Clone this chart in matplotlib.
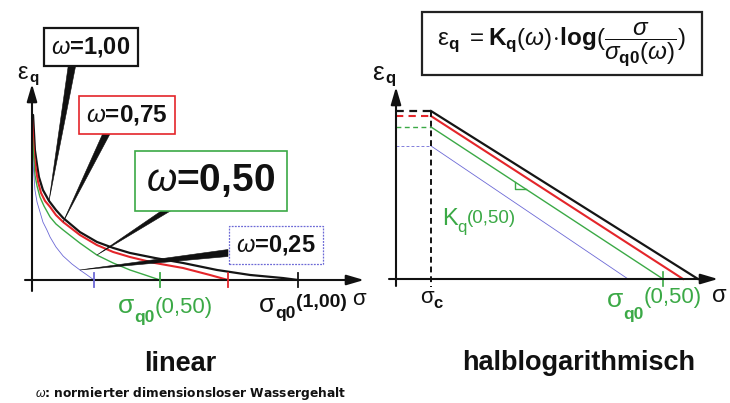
import matplotlib
matplotlib.use("Agg")
import matplotlib.pyplot as plt
from matplotlib.patches import Polygon, Rectangle

plt.rcParams['font.family'] = ['Liberation Sans', 'DejaVu Sans']
plt.rcParams['mathtext.fontset'] = 'custom'
plt.rcParams['mathtext.rm'] = 'Liberation Sans'
plt.rcParams['mathtext.it'] = 'Liberation Sans:italic'
plt.rcParams['mathtext.bf'] = 'Liberation Sans:bold'

# ---------------- data ----------------
omega_labels = ['1,00', '0,75', '0,50', '0,25']
colors = ['#151515', '#e4252a', '#3ba946', '#6c69d6']
line_w = [1.6, 1.5, 1.0, 0.6]

# linear view: sigma scaled to sigma_q0(1,00) = 1, eps scaled to eps_c(1,00) = 1
sig_100 = [0.004, 0.008, 0.011, 0.019, 0.026, 0.041, 0.064, 0.090, 0.117, 0.180,
           0.244, 0.305, 0.368, 0.462, 0.568, 0.695, 0.820, 0.944, 1.000]
eps_100 = [1.019, 0.895, 0.802, 0.710, 0.636, 0.556, 0.488, 0.432, 0.383, 0.296,
           0.235, 0.198, 0.167, 0.136, 0.105, 0.062, 0.031, 0.012, 0.000]
sig_075 = [0.000, 0.004, 0.008, 0.015, 0.023, 0.034, 0.049, 0.068, 0.090, 0.117,
           0.180, 0.244, 0.305, 0.368, 0.462, 0.568, 0.669, 0.737]
eps_075 = [1.000, 0.877, 0.772, 0.679, 0.605, 0.537, 0.488, 0.451, 0.401, 0.358,
           0.278, 0.216, 0.173, 0.142, 0.105, 0.074, 0.031, 0.000]
sig_050 = [0.000, 0.004, 0.008, 0.011, 0.019, 0.030, 0.045, 0.068, 0.090, 0.117,
           0.180, 0.244, 0.305, 0.368, 0.425, 0.481]
eps_050 = [0.926, 0.815, 0.722, 0.648, 0.580, 0.512, 0.457, 0.389, 0.346, 0.309,
           0.228, 0.154, 0.105, 0.062, 0.031, 0.000]
sig_025 = [0.000, 0.004, 0.008, 0.011, 0.019, 0.030, 0.041, 0.056, 0.068, 0.090,
           0.117, 0.150, 0.180, 0.207, 0.233]
eps_025 = [0.815, 0.722, 0.630, 0.556, 0.481, 0.420, 0.358, 0.309, 0.265, 0.204,
           0.148, 0.099, 0.062, 0.031, 0.000]
lin_sig = [sig_100, sig_075, sig_050, sig_025]
lin_eps = [eps_100, eps_075, eps_050, eps_025]
sigma_q0_lin = [1.000, 0.737, 0.481, 0.233]
pointer_idx = [6, 9, 11, 12]

# semi-logarithmic view: u = log(sigma / sigma_c), scaled
log_sigma_c = 0.0
log_sigma_q0 = [1.000, 0.944, 0.869, 0.738]
eps_c = [1.000, 0.970, 0.905, 0.792]

# ---------------- figure ----------------
W, H = 730, 403
fig = plt.figure(figsize=(W / 100, H / 100), dpi=100)
renderer = fig.canvas.get_renderer()

axL = fig.add_axes([0, 0, 365 / W, 1])
axL.set_xlim((0 - 32) / 266, (365 - 32) / 266)
axL.set_ylim((280 - 403) / 162, 280 / 162)
axL.axis('off')

axR = fig.add_axes([365 / W, 0, 365 / W, 1])
axR.set_xlim((365 - 431) / 267, (730 - 431) / 267)
axR.set_ylim((279 - 403) / 168, 279 / 168)
axR.axis('off')


def L(xp, yp):
    return ((xp - 32) / 266, (280 - yp) / 162)


def R(xp, yp):
    return ((xp - 431) / 267, (279 - yp) / 168)


def axis_arrow(ax, start, tip):
    ax.annotate('', xy=tip, xytext=start,
                arrowprops=dict(arrowstyle='-|>,head_length=0.75,head_width=0.22',
                                lw=1.5, color='#111111', mutation_scale=14,
                                shrinkA=0, shrinkB=0), zorder=3)


def chain(x, base, pieces, color):
    for s, size, weight, dy in pieces:
        t = fig.text(x / W, 1 - (base + dy) / H, s, fontsize=size, fontweight=weight,
                     color=color, ha='left', va='baseline')
        x += t.get_window_extent(renderer).width


# ---------- linear panel ----------
axis_arrow(axL, L(32, 291), L(32, 84))
axis_arrow(axL, L(25, 280), L(364, 280))

for s, e, c, w in zip(lin_sig, lin_eps, colors, line_w):
    axL.plot(s, e, color=c, lw=w, zorder=2, solid_capstyle='round')
for s0, c in zip(sigma_q0_lin, colors):
    axL.plot([s0, s0], [L(0, 273)[1], L(0, 287)[1]], color=c, lw=1.3, zorder=3)

# label boxes with tapered pointers
box_centers = [(91, 47), (127, 115), (211, 181), (276, 245)]
box_sizes = [17, 17.5, 28, 17]
box_lw = [1.6, 1.2, 1.2, 0.9]
box_ls = ['-', '-', '-', (0, (1.5, 1))]
bases = [((68.5, 64), (76, 64)), ((103.5, 132), (111, 132)),
         ((167, 207), (177, 207)), ((228, 249.5), (228, 256.5))]
for i in range(4):
    tip = (lin_sig[i][pointer_idx[i]], lin_eps[i][pointer_idx[i]])
    a, b = bases[i]
    axL.add_patch(Polygon([L(*a), L(*b), tip], closed=True, fc='#111111',
                          ec='#111111', lw=0.4, zorder=4, clip_on=False))
    cx, cy = box_centers[i]
    axL.text(*L(cx, cy), r'$\omega$=' + omega_labels[i], fontsize=box_sizes[i],
             fontweight='bold', color='#111111', ha='center', va='center', zorder=6,
             bbox=dict(boxstyle='square,pad=0.3', fc='white', ec=colors[i],
                       lw=box_lw[i], ls=box_ls[i]))

chain(17, 79, [(r'$\mathrm{\varepsilon}$', 17, 'normal', 0),
               ('q', 11, 'bold', 3)], '#111111')
chain(118, 313, [('σ', 19, 'normal', 0), ('q0', 12.5, 'bold', 9),
                 ('(0,50)', 16, 'normal', 0)], colors[2])
chain(259, 312, [('σ', 19, 'normal', 0), ('q0', 12.5, 'bold', 6),
                 ('(1,00)', 14, 'bold', -5)], '#111111')
chain(352, 305, [('σ', 16, 'normal', 0)], '#111111')

fig.text(180 / W, 1 - 371 / H, 'linear', fontsize=19.5, fontweight='bold',
         ha='center', va='baseline', color='#111111')
fig.text(35 / W, 1 - 397 / H, r'$\omega$: normierter dimensionsloser Wassergehalt',
         fontsize=8.8, fontweight='bold', family='DejaVu Sans', ha='left',
         va='baseline', color='#111111')

# ---------- semi-logarithmic panel ----------
axis_arrow(axR, R(396, 286), R(396, 87))
axis_arrow(axR, R(389, 279), R(718, 279))

u_axis = R(396, 0)[0]
for ls0, ec, c, w in zip(log_sigma_q0, eps_c, colors, line_w):
    axR.plot([u_axis, log_sigma_c], [ec, ec], color=c, lw=w, ls=(0, (3.5, 2.5)), zorder=2)
    axR.plot([log_sigma_c, ls0], [ec, 0], color=c, lw=w, zorder=2)
axR.plot([log_sigma_c, log_sigma_c], [eps_c[0], R(0, 287)[1]], color='#111111',
         lw=1.4, ls=(0, (3, 2)), zorder=3)
axR.plot([log_sigma_q0[2]] * 2, [R(0, 272)[1], R(0, 286)[1]], color=colors[2], lw=1.2)

# slope triangle on the omega = 0,50 line
slope = eps_c[2] / log_sigma_q0[2]
u_t = R(515, 0)[0]
e_t = eps_c[2] - slope * u_t
drop = 7 / 168
axR.plot([u_t, u_t, u_t + drop / slope], [e_t, e_t - drop, e_t - drop],
         color=colors[2], lw=1.0, zorder=2)

chain(442, 225, [('K', 17, 'normal', 0), ('q', 12, 'normal', 7),
                 ('(0,50)', 13.5, 'normal', -2)], colors[2])
chain(372, 80, [(r'$\mathrm{\varepsilon}$', 19, 'normal', 0),
                ('q', 12, 'bold', 3)], '#111111')
chain(420, 303, [('σ', 16, 'normal', 0), ('c', 12, 'bold', 5)], '#111111')
chain(607, 307, [('σ', 19, 'normal', 0), ('q0', 12.5, 'bold', 12),
                 ('(0,50)', 16, 'normal', -4)], colors[2])
chain(712, 302, [('σ', 17, 'normal', 0)], '#111111')

fig.text(579 / W, 1 - 370 / H, 'halblogarithmisch', fontsize=19.5, fontweight='bold',
         ha='center', va='baseline', color='#111111')

# formula box
fig.patches.append(Rectangle((422 / W, 1 - 75 / H), 280 / W, 63 / H, fill=False,
                             ec='#222222', lw=1.6, transform=fig.transFigure))
fig.text(562 / W, 1 - 44 / H,
         r'$\mathrm{\varepsilon}_\mathbf{q}\ = \mathbf{K}_\mathbf{q}(\omega)\!\cdot\!'
         r'\mathbf{log}(\dfrac{\sigma}{\sigma_{\mathbf{q0}}(\omega)})$',
         fontsize=17.5, ha='center', va='center', color='#111111')

fig.savefig('out.png', dpi=100, facecolor='white')
